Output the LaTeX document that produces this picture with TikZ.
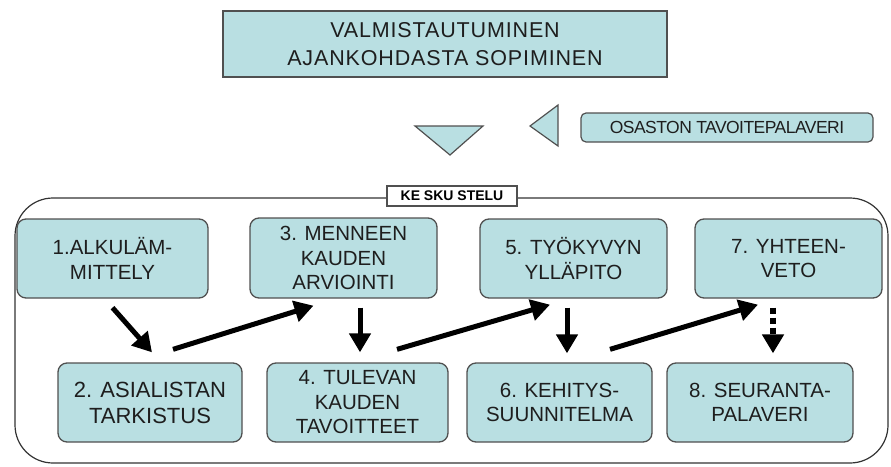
\documentclass[tikz,border=0pt]{standalone}
\usepackage{fontspec}
\setmainfont{Liberation Sans}
\usetikzlibrary{arrows.meta}
\definecolor{boxfill}{HTML}{B9DFE2}
\definecolor{boxline}{HTML}{505050}
\definecolor{txt}{HTML}{1E1E1E}
\tikzset{
  stepbox/.style={draw=boxline, line width=1.3pt, fill=boxfill, rounded corners=9pt,
    minimum height=79pt, align=center, text=txt, inner sep=2pt,
    font=\fontsize{20.5}{24.5}\selectfont},
  bigarrow/.style={line width=5pt, -{Triangle[length=19pt,width=21pt]}},
  dotarrow/.style={line width=6pt, dash pattern=on 6pt off 4pt, -{Triangle[length=19pt,width=21pt]}},
  marker/.style={draw=boxline, line width=1.2pt, fill=boxfill, line join=miter}
}
\begin{document}
\begin{tikzpicture}[x=1pt,y=-1pt]
\useasboundingbox (0,0) rectangle (891,466);

% preparation header
\node[draw=boxline, line width=2pt, fill=boxfill, minimum width=444pt, minimum height=66pt,
  align=center, text=txt, font=\fontsize{21.5}{28}\selectfont\addfontfeature{LetterSpace=4}]
  (prep) at (445,44) {VALMISTAUTUMINEN\\AJANKOHDASTA SOPIMINEN};

% direction markers
\draw[marker] (415,126) -- (483,126) -- (450,155) -- cycle;
\draw[marker] (530,126) -- (558,105) -- (558,146) -- cycle;
\node[draw=boxline, line width=1.2pt, fill=boxfill, rounded corners=5pt, minimum width=292pt,
  minimum height=29pt, text=txt, font=\fontsize{17.5}{20}\selectfont\addfontfeature{LetterSpace=-3}]
  (goal) at (727,127.5) {OSASTON TAVOITEPALAVERI};

% discussion frame
\draw[line width=1.2pt, draw=black!80, rounded corners=38pt] (517,198) -- (888,198) -- (888,463) -- (15,463) -- (15,198) -- (387,198);
\node[draw=boxline, line width=1.2pt, fill=white, minimum width=130pt, minimum height=20pt,
  inner sep=0pt, text=black, font=\bfseries\fontsize{14}{16}\selectfont]
  (talk) at (452,196) {KE SKU STELU};

% steps
\node[stepbox, minimum width=191pt] (b1) at (112.5,258.5) {1.ALKULÄM-\\MITTELY};
\node[stepbox, minimum width=187pt, minimum height=80pt] (b3) at (343.5,258) {3. MENNEEN\\KAUDEN\\ARVIOINTI};
\node[stepbox, minimum width=187pt] (b5) at (573.5,258.5) {5. TYÖKYVYN\\YLLÄPITO};
\node[stepbox, minimum width=187pt] (b7) at (788.5,258.5) {7. YHTEEN-\\VETO};
\node[stepbox, minimum width=184pt, font=\fontsize{22}{26}\selectfont] (b2) at (150,402.5) {2. ASIALISTAN\\TARKISTUS};
\node[stepbox, minimum width=181pt] (b4) at (357.5,402.5) {4. TULEVAN\\KAUDEN\\TAVOITTEET};
\node[stepbox, minimum width=185pt] (b6) at (559.5,402.5) {6. KEHITYS-\\SUUNNITELMA};
\node[stepbox, minimum width=186pt] (b8) at (760,402.5) {8. SEURANTA-\\PALAVERI};

% flow
\draw[bigarrow] ([yshift=-9pt]b1.south) -- ([xshift=2pt,yshift=10pt]b2.north);
\draw[bigarrow] ([xshift=23pt,yshift=13pt]b2.north) -- ([xshift=-30pt,yshift=-7pt]b3.south);
\draw[bigarrow] ([xshift=16.5pt,yshift=-9pt]b3.south) -- ([xshift=2.5pt,yshift=10pt]b4.north);
\draw[bigarrow] ([xshift=39.5pt,yshift=13pt]b4.north) -- ([xshift=-23.5pt,yshift=-6pt]b5.south);
\draw[bigarrow] ([xshift=-6.5pt,yshift=-9pt]b5.south) -- ([xshift=7.5pt,yshift=9pt]b6.north);
\draw[bigarrow] ([xshift=50.5pt,yshift=13pt]b6.north) -- ([xshift=-30.5pt,yshift=-6pt]b7.south);
\draw[dotarrow] ([xshift=-15.5pt,yshift=-9pt]b7.south) -- ([xshift=13pt,yshift=9pt]b8.north);
\end{tikzpicture}
\end{document}
